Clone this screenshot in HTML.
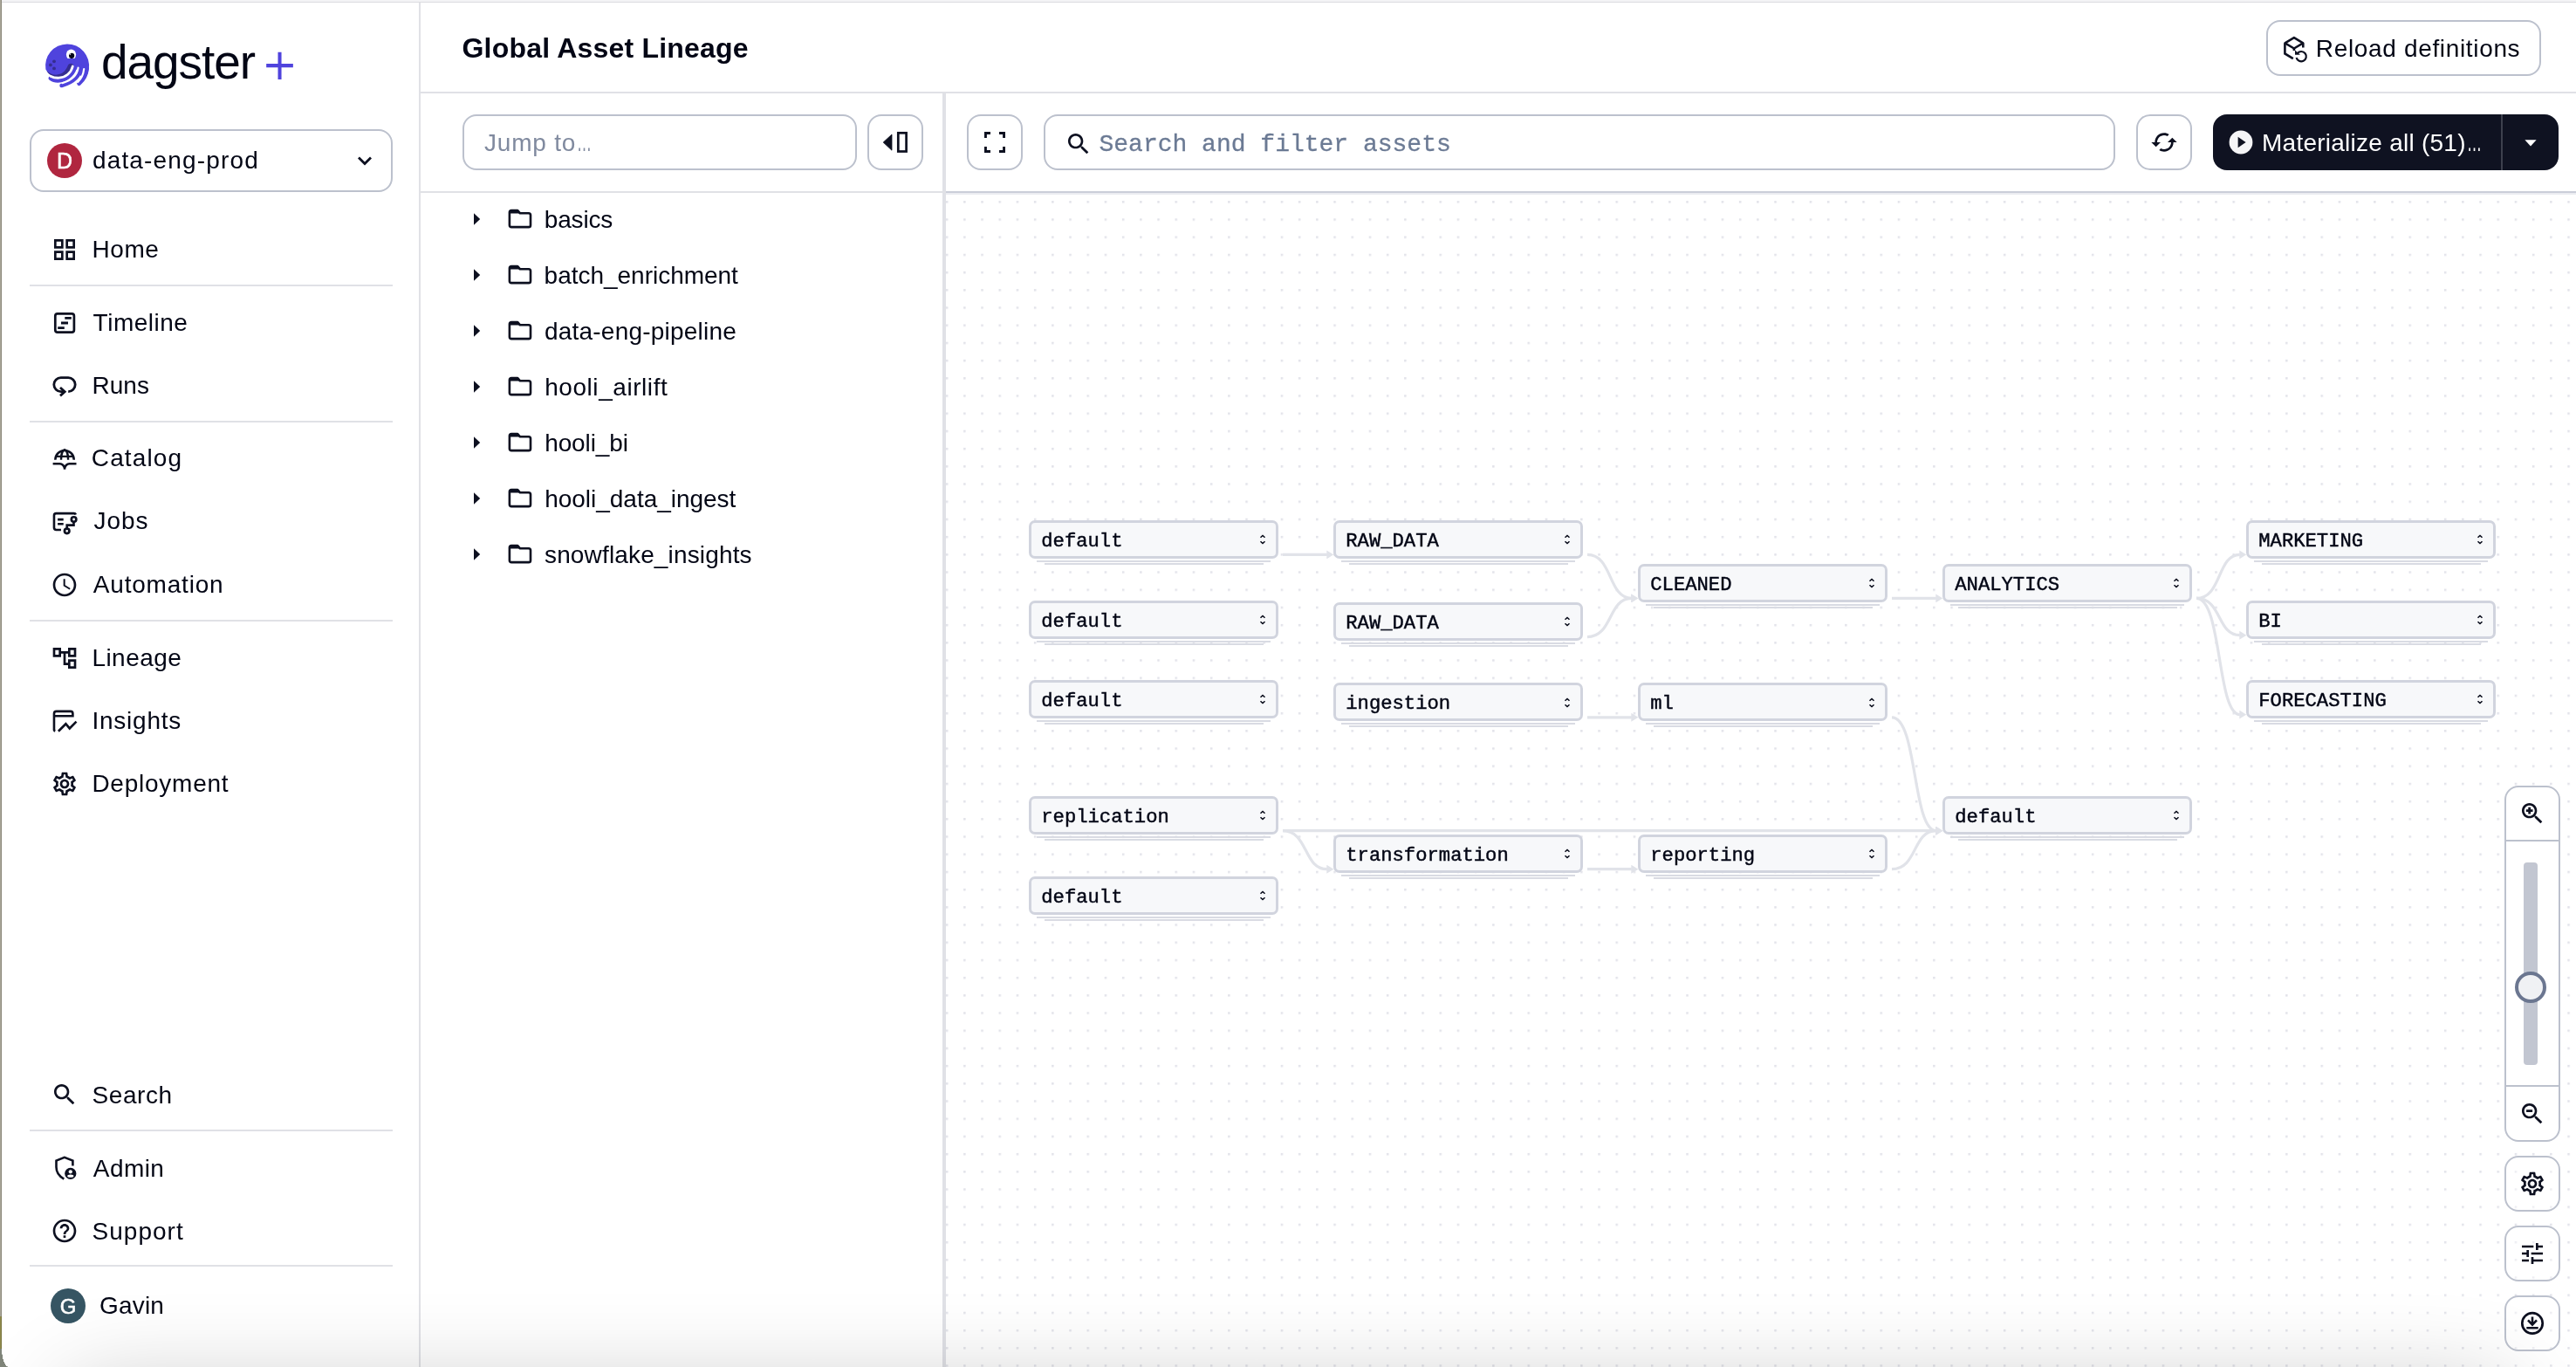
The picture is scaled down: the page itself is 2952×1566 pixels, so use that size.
<!DOCTYPE html>
<html lang="en">
<head>
<meta charset="utf-8">
<title>Global Asset Lineage</title>
<style>
*{box-sizing:border-box;margin:0;padding:0}
html,body{width:2952px;height:1566px;overflow:hidden;background:#fff}
body{position:relative;font-family:"Liberation Sans",sans-serif;color:#030615;-webkit-font-smoothing:antialiased}
.abs{position:absolute}
.t{position:absolute;white-space:nowrap;line-height:1}
.nav{font-size:28px;left:107px;letter-spacing:.2px}
.ico{position:absolute;overflow:visible}
.hr{position:absolute;left:34px;width:416px;height:2px;background:#e0e1e6}
.btn{position:absolute;border:2px solid #bcc1cd;border-radius:16px;background:#fff}
.tree{font-size:28px;left:624px;letter-spacing:0}
.node{position:absolute;width:286px;height:44px;border:3.4px solid #d1d4de;border-radius:7px;background:#f7f8fa}
.node span{position:absolute;left:11.3px;top:10.6px;font-family:"Liberation Mono",monospace;font-size:22.2px;line-height:1;white-space:nowrap;color:#030615;-webkit-text-stroke:.45px #030615}
.node svg{position:absolute;left:259.6px;top:11.2px}
.node i{position:absolute;height:2px;background:#d9dbe3;display:block}
.node i.a{left:6px;right:6px;top:43px}
.node i.b{left:15px;right:14px;top:46px}
.el{display:inline-block;width:16px;font-size:34px;line-height:0;transform:scaleX(.5);transform-origin:0 50%;letter-spacing:0;margin-left:1px}
</style>
</head>
<body>
<div id="root" style="position:absolute;left:0;top:0;width:2952px;height:1566px;will-change:transform">
<!-- window chrome edges -->
<div class="abs" style="left:0;top:0;width:2952px;height:2px;background:#f3f3f5"></div>
<div class="abs" style="left:0;top:2px;width:2952px;height:1px;background:#dcdce0"></div>
<div class="abs" style="left:0;top:0;width:1px;height:1566px;background:#aaa79a"></div>
<div class="abs" style="left:1px;top:0;width:1px;height:1566px;background:#8c897b"></div>
<div class="abs" style="left:0;top:1508px;width:1px;height:58px;background:#8f8a4c"></div>
<div class="abs" style="left:1px;top:1508px;width:1px;height:58px;background:#7b7740"></div>
<div class="abs" style="left:0;top:1545px;width:10px;height:21px;background:radial-gradient(ellipse 8px 21px at 100% 0,rgba(255,255,255,0) 0,rgba(255,255,255,0) 98%,#80857a 100%)"></div>
<div class="abs" style="left:0;top:1545px;width:2px;height:21px;background:#80857a"></div>

<!-- SIDEBAR -->
<div class="abs" style="left:480px;top:3px;width:2px;height:1563px;background:#e0e1e6"></div>
<div id="sidebar">
<svg class="ico" id="logo" style="left:40px;top:40px" width="80" height="70" viewBox="40 40 80 70"><path d="M52.4 79.5 A25 25 0 1 1 101.8 79 C101 84 99 89 96 92 L88 80 L83 75 C81 80 78 85 73 87.6 C67 90.2 58 88.4 52.4 79.5 Z" fill="#4f43dd"/>
<path d="M86.4 75 C84.8 83.6 78.6 90 70 92 C65.4 93 61 92 57.8 89.6" fill="none" stroke="#4f43dd" stroke-width="4.6" stroke-linecap="round"/>
<path d="M93 76 C92 85 86.5 93.5 70.6 98" fill="none" stroke="#4f43dd" stroke-width="4.6" stroke-linecap="round"/>
<path d="M99.6 78 C99 85 96 91 90.6 95.6" fill="none" stroke="#4f43dd" stroke-width="4.8" stroke-linecap="round"/>
<path d="M53.4 81 C58 85.5 64 87 69.5 84.6 C74.5 82.4 76.5 78 77.8 75 C78.8 72.6 81.6 72 83.4 73.4 C84.6 74.4 84.4 76 83.8 77.4 C81.6 83.4 77 87.6 71 88.8 C63 90.2 56.4 86.4 53.4 81 Z" fill="#352d8f"/>
<path d="M83.3 76 C81.4 83.6 75.4 88.8 67.6 89.2 C63.6 89.4 60.6 88.6 57.8 87.2" fill="none" stroke="#fff" stroke-width="2.8" stroke-linecap="round"/>
<path d="M89.6 77.6 C88.6 85 83 91.8 71.4 95.2" fill="none" stroke="#fff" stroke-width="2.2" stroke-linecap="round"/>
<path d="M96.2 79 C95.6 85 93 90.4 89.2 94" fill="none" stroke="#fff" stroke-width="2.2" stroke-linecap="round"/>
<circle cx="62" cy="70.3" r="1.9" fill="#352d8f"/><circle cx="57.9" cy="74.4" r="1.9" fill="#352d8f"/><circle cx="62" cy="78.4" r="1.9" fill="#352d8f"/>
<clipPath id="eyeclip"><rect x="70" y="50" width="25" height="16.9"/></clipPath>
<g clip-path="url(#eyeclip)"><ellipse cx="81.5" cy="62.6" rx="5.6" ry="6.1" fill="#fff"/><circle cx="82.1" cy="63.9" r="3.15" fill="#05061a"/><circle cx="80.3" cy="62.1" r=".8" fill="#fff"/></g></svg>
<div class="t" style="left:116px;top:43.5px;font-size:55px;letter-spacing:-1.05px;color:#030615">dagster</div>
<div class="t" id="plus" style="left:300px;top:49.5px;font-family:'DejaVu Sans',sans-serif;font-size:49px;color:#4f43dd">+</div>
<div class="abs" style="left:34px;top:148px;width:416px;height:72px;border:2px solid #bcc1cd;border-radius:16px;background:#fff"></div>
<div class="abs" style="left:54px;top:164px;width:40px;height:40px;border-radius:50%;background:#b0263f"></div>
<div class="t" style="left:54px;top:172px;width:40px;text-align:center;font-size:25px;color:#fff;-webkit-text-stroke:.55px #fff">D</div>
<div class="t" style="left:106px;top:170px;font-size:28px;letter-spacing:1.15px">data-eng-prod</div>
<svg class="ico" style="left:406px;top:172px" width="24" height="24" viewBox="0 0 24 24"><path d="M5 8.5 L12 15.5 L19 8.5" fill="none" stroke="#0d1020" stroke-width="2.8"/></svg>
<svg class="ico" id="ic-Home" style="left:58px;top:270.0px" width="32" height="32" viewBox="0 0 32 32"><g transform="scale(1.3333)"><path d="M3 3v8h8V3H3zm6 6H5V5h4v4zm-6 4v8h8v-8H3zm6 6H5v-4h4v4zm4-16v8h8V3h-8zm6 6h-4V5h4v4zm-6 4v8h8v-8h-8zm6 6h-4v-4h4v4z" fill="#0d1020"/></g></svg>
<div class="t nav" style="top:272.2px;left:105.4px;letter-spacing:0.60px">Home</div>
<svg class="ico" id="ic-Timeline" style="left:58px;top:353.6px" width="32" height="32" viewBox="0 0 32 32"><rect x="5.3" y="5.4" width="21.6" height="21.2" rx="2.6" fill="none" stroke="#0d1020" stroke-width="2.7"/><path d="M16.3 10.3H23.8M12 16H20M8.2 21.7H15.8" stroke="#0d1020" stroke-width="2.8" fill="none"/></svg>
<div class="t nav" style="top:355.8px;left:106.6px;letter-spacing:0.51px">Timeline</div>
<svg class="ico" id="ic-Runs" style="left:58px;top:426.0px" width="32" height="32" viewBox="0 0 32 32"><path d="M20.2 22.6 A8 8 0 0 0 20.2 6.6 H11.8 A8 8 0 0 0 11.8 22.6 H15" fill="none" stroke="#0d1020" stroke-width="2.8"/><path d="M11 18 L16.2 22.7 L11 27.4" fill="none" stroke="#0d1020" stroke-width="2.8"/></svg>
<div class="t nav" style="top:428.2px;left:105.4px;letter-spacing:0.06px">Runs</div>
<svg class="ico" id="ic-Catalog" style="left:58px;top:509.0px" width="32" height="32" viewBox="0 0 32 32"><path d="M5.35 17.7 A10.7 10.7 0 0 1 26.75 17.7" fill="none" stroke="#0d1020" stroke-width="2.6"/><path d="M12 17.7 C12 10.5 14.2 6.6 16.05 6.2 C17.9 6.6 20.1 10.5 20.1 17.7 M6 13.85 H26.1" fill="none" stroke="#0d1020" stroke-width="2.4"/><path d="M2.6 22.3 H10.4 Q14.9 22.6 16.05 27.4 Q17.2 22.6 21.7 22.3 H29.5 M16.05 25.5 V28.8" fill="none" stroke="#0d1020" stroke-width="2.6"/></svg>
<div class="t nav" style="top:511.2px;left:104.8px;letter-spacing:1.13px">Catalog</div>
<svg class="ico" id="ic-Jobs" style="left:58px;top:581.2px" width="32" height="32" viewBox="0 0 32 32"><path d="M11.95 26 H6.4 Q3.97 26 3.97 23.6 V9.5 Q3.97 7.1 6.4 7.1 H26.6 Q28.4 7.1 28.9 8.5" fill="none" stroke="#0d1020" stroke-width="2.6"/><path d="M8.1 14.15 H14.7 M8.1 19.3 H14.7" stroke="#0d1020" stroke-width="2.6" fill="none"/><circle cx="26.6" cy="14" r="2.75" fill="none" stroke="#0d1020" stroke-width="2.7"/><circle cx="18.7" cy="27.3" r="2.75" fill="none" stroke="#0d1020" stroke-width="2.7"/><path d="M26.5 16.8 V20.6 H18.7 V24.5" fill="none" stroke="#0d1020" stroke-width="2.6"/></svg>
<div class="t nav" style="top:583.4px;left:107.4px;letter-spacing:1.00px">Jobs</div>
<svg class="ico" id="ic-Automation" style="left:58px;top:653.5px" width="32" height="32" viewBox="0 0 32 32"><g transform="scale(1.3333)"><path d="M11.99 2C6.47 2 2 6.48 2 12s4.47 10 9.99 10C17.52 22 22 17.52 22 12S17.52 2 11.99 2zM12 20c-4.42 0-8-3.58-8-8s3.58-8 8-8 8 3.58 8 8-3.58 8-8 8zm.5-13H11v6l5.25 3.15.75-1.23-4.5-2.67z" fill="#0d1020"/></g></svg>
<div class="t nav" style="top:655.7px;left:106.8px;letter-spacing:0.80px">Automation</div>
<svg class="ico" id="ic-Lineage" style="left:58px;top:737.5px" width="32" height="32" viewBox="0 0 32 32"><g transform="scale(1.3333)"><path d="M22 11V3h-7v3H9V3H2v8h7V8h2v10h4v3h7v-8h-7v3h-2V8h2v3h7zM7 9H4V5h3v4zm10 6h3v4h-3v-4zm0-10h3v4h-3V5z" fill="#0d1020"/></g></svg>
<div class="t nav" style="top:739.7px;left:105.4px;letter-spacing:0.47px">Lineage</div>
<svg class="ico" id="ic-Insights" style="left:58px;top:809.4px" width="32" height="32" viewBox="0 0 32 32"><path d="M3.97 27.4 V8.6 Q3.97 5.9 6.7 5.9 H22.9 Q25.4 5.9 25.4 8.4 V11.25 H3.97" fill="none" stroke="#0d1020" stroke-width="2.6"/><path d="M3.97 27 Q4.1 28.3 5.3 28.6" fill="none" stroke="#0d1020" stroke-width="2.6"/><path d="M8.9 28.7 L17.4 20.2 L21.75 25.4 L29.5 17.6" fill="none" stroke="#0d1020" stroke-width="2.7"/></svg>
<div class="t nav" style="top:811.6px;left:105.4px;letter-spacing:0.77px">Insights</div>
<svg class="ico" id="ic-Deployment" style="left:58px;top:881.7px" width="32" height="32" viewBox="0 0 32 32"><g transform="scale(1.3333)"><path d="M19.43 12.98c.04-.32.07-.64.07-.98 0-.34-.03-.66-.07-.98l2.11-1.65c.19-.15.24-.42.12-.64l-2-3.46c-.09-.16-.26-.25-.44-.25-.06 0-.12.01-.17.03l-2.49 1c-.52-.4-1.08-.73-1.69-.98l-.38-2.65C14.46 2.18 14.25 2 14 2h-4c-.25 0-.46.18-.49.42l-.38 2.65c-.61.25-1.17.59-1.69.98l-2.49-1c-.06-.02-.12-.03-.18-.03-.17 0-.34.09-.43.25l-2 3.46c-.13.22-.07.49.12.64l2.11 1.65c-.04.32-.07.65-.07.98 0 .33.03.66.07.98l-2.11 1.65c-.19.15-.24.42-.12.64l2 3.46c.09.16.26.25.44.25.06 0 .12-.01.17-.03l2.49-1c.52.4 1.08.73 1.69.98l.38 2.65c.03.24.24.42.49.42h4c.25 0 .46-.18.49-.42l.38-2.65c.61-.25 1.17-.59 1.69-.98l2.49 1c.06.02.12.03.18.03.17 0 .34-.09.43-.25l2-3.46c.12-.22.07-.49-.12-.64l-2.11-1.65zm-1.98-1.71c.04.31.05.52.05.73 0 .21-.02.43-.05.73l-.14 1.13.89.7 1.08.84-.7 1.21-1.27-.51-1.04-.42-.9.68c-.43.32-.84.56-1.25.73l-1.06.43-.16 1.13-.2 1.35h-1.4l-.19-1.35-.16-1.13-1.06-.43c-.43-.18-.83-.41-1.23-.71l-.91-.7-1.06.43-1.27.51-.7-1.21 1.08-.84.89-.7-.14-1.13c-.03-.31-.05-.54-.05-.74s.02-.43.05-.73l.14-1.13-.89-.7-1.08-.84.7-1.21 1.27.51 1.04.42.9-.68c.43-.32.84-.56 1.25-.73l1.06-.43.16-1.13.2-1.35h1.39l.19 1.35.16 1.13 1.06.43c.43.18.83.41 1.23.71l.91.7 1.06-.43 1.27-.51.7 1.21-1.07.85-.89.7.14 1.13zM12 8c-2.21 0-4 1.79-4 4s1.79 4 4 4 4-1.79 4-4-1.79-4-4-4zm0 6c-1.1 0-2-.9-2-2s.9-2 2-2 2 .9 2 2-.9 2-2 2z" fill="#0d1020"/></g></svg>
<div class="t nav" style="top:883.9px;left:105.4px;letter-spacing:0.76px">Deployment</div>
<svg class="ico" id="ic-Search" style="left:58px;top:1237.7px" width="32" height="32" viewBox="0 0 32 32"><g transform="scale(1.3333)"><path d="M15.5 14h-.79l-.28-.27C15.41 12.59 16 11.11 16 9.5 16 5.91 13.09 3 9.5 3S3 5.91 3 9.5 5.91 16 9.5 16c1.61 0 3.09-.59 4.23-1.57l.27.28v.79l5 4.99L20.49 19l-4.99-5zm-6 0C7.01 14 5 11.99 5 9.5S7.01 5 9.5 5 14 7.01 14 9.5 11.99 14 9.5 14z" fill="#0d1020"/></g></svg>
<div class="t nav" style="top:1241.2px;left:105.6px;letter-spacing:0.56px">Search</div>
<svg class="ico" id="ic-Admin" style="left:58px;top:1322.4px" width="32" height="32" viewBox="0 0 32 32"><path d="M25.4 13.45 V7.6 L15.9 3.9 L6.5 7.6 V15 C6.5 21 10 25.6 15.3 28.6" fill="none" stroke="#0d1020" stroke-width="2.6" stroke-linejoin="miter"/><circle cx="22.8" cy="22.4" r="6.6" fill="#0d1020"/><circle cx="22.8" cy="20.3" r="2.1" fill="#fff"/><ellipse cx="22.8" cy="25.15" rx="3.6" ry="1.6" fill="#fff"/></svg>
<div class="t nav" style="top:1324.6px;left:106.8px;letter-spacing:0.44px">Admin</div>
<svg class="ico" id="ic-Support" style="left:58px;top:1394.0px" width="32" height="32" viewBox="0 0 32 32"><g transform="scale(1.3333)"><path d="M11 18h2v-2h-2v2zm1-16C6.48 2 2 6.48 2 12s4.48 10 10 10 10-4.48 10-10S17.52 2 12 2zm0 18c-4.41 0-8-3.59-8-8s3.59-8 8-8 8 3.59 8 8-3.59 8-8 8zm0-14c-2.21 0-4 1.79-4 4h2c0-1.1.9-2 2-2s2 .9 2 2c0 2-3 1.75-3 5h2c0-2.25 3-2.5 3-5 0-2.21-1.79-4-4-4z" fill="#0d1020"/></g></svg>
<div class="t nav" style="top:1397.0px;left:105.6px;letter-spacing:1.00px">Support</div>
<div class="hr" style="top:325.5px"></div>
<div class="hr" style="top:481.5px"></div>
<div class="hr" style="top:709.7px"></div>
<div class="hr" style="top:1293.7px"></div>
<div class="hr" style="top:1449.4px"></div>
<div class="abs" style="left:58px;top:1476px;width:40px;height:40px;border-radius:50%;background:#365563"></div>
<div class="t" style="left:58px;top:1484.5px;width:40px;text-align:center;font-size:24px;color:#fff;-webkit-text-stroke:.55px #fff">G</div>
<div class="t" style="left:114px;top:1481.9px;font-size:28px;letter-spacing:.2px">Gavin</div>
</div>

<!-- HEADER -->
<div id="header">
<div class="t" style="left:529.5px;top:38.7px;font-size:32px;font-weight:700;letter-spacing:.2px">Global Asset Lineage</div>
<div class="abs" style="left:482px;top:105px;width:2470px;height:2px;background:#e0e1e6"></div>
<div class="btn" style="left:2597px;top:23px;width:315px;height:64px"></div>
<svg class="ico" id="ic-reload" style="left:2614px;top:40px" width="32" height="32" viewBox="0 0 32 32"><path d="M14.9 3.1 L25.2 9.4 L14.9 15.5 L4.5 9.4 Z" fill="none" stroke="#0d1020" stroke-width="2.5" stroke-linejoin="round"/><path d="M4.4 9.4 V21.4 L13.8 27.2 M25.3 9.4 V14.6 M14.9 15.6 V18" fill="none" stroke="#0d1020" stroke-width="2.6"/><path d="M18.8 21 A5.7 5.7 0 1 1 17.6 26" fill="none" stroke="#0d1020" stroke-width="2.2"/><path d="M16 17.6 V22.8 H22 Z" fill="#0d1020"/></svg>
<div class="t" style="left:2653.8px;top:42px;font-size:28px;letter-spacing:.66px">Reload definitions</div>
</div>

<!-- LEFT PANEL -->
<div id="leftpanel">
<div class="btn" style="left:530px;top:131px;width:452px;height:64px"></div>
<div class="t" style="left:555px;top:149.5px;font-size:28px;letter-spacing:.8px;color:#808a9f">Jump to<span class="el">…</span></div>
<div class="btn" style="left:994px;top:131px;width:64px;height:64px"></div>
<svg class="ico" id="ic-panel" style="left:1010px;top:147px" width="32" height="32" viewBox="0 0 32 32"><path d="M2.2 16.1 L12 7 V25.2 Z" fill="#0d1020" stroke="#0d1020" stroke-width=".8" stroke-linejoin="round"/><rect x="19.3" y="5.3" width="9.3" height="21.2" fill="none" stroke="#0d1020" stroke-width="2.7"/></svg>
<div class="abs" style="left:482px;top:219px;width:598px;height:2px;background:#e0e1e6"></div>
<div class="abs" style="left:1080px;top:107px;width:4px;height:1459px;background:#e0e1e6"></div>
<svg class="ico" style="left:541px;top:243.3px" width="12" height="16" viewBox="0 0 12 16"><path d="M2 1.3 L9.2 8 L2 14.7 Z" fill="#0d1020"/></svg>
<svg class="ico" style="left:580px;top:237.3px" width="32" height="28" viewBox="0 0 32 28"><path d="M3.9 6.2 Q3.9 4 6.1 4 H13.2 L16 7.3 H25.8 Q28 7.3 28 9.5 V20.9 Q28 23.1 25.8 23.1 H6.1 Q3.9 23.1 3.9 20.9 Z" fill="none" stroke="#0d1020" stroke-width="2.6" stroke-linejoin="round"/><path d="M3.9 4.4 H13.4 L16 7.6 H3.9 Z" fill="#0d1020"/></svg>
<div class="t tree" style="top:237.9px;left:623.8px;letter-spacing:-0.16px">basics</div>
<svg class="ico" style="left:541px;top:307.3px" width="12" height="16" viewBox="0 0 12 16"><path d="M2 1.3 L9.2 8 L2 14.7 Z" fill="#0d1020"/></svg>
<svg class="ico" style="left:580px;top:301.3px" width="32" height="28" viewBox="0 0 32 28"><path d="M3.9 6.2 Q3.9 4 6.1 4 H13.2 L16 7.3 H25.8 Q28 7.3 28 9.5 V20.9 Q28 23.1 25.8 23.1 H6.1 Q3.9 23.1 3.9 20.9 Z" fill="none" stroke="#0d1020" stroke-width="2.6" stroke-linejoin="round"/><path d="M3.9 4.4 H13.4 L16 7.6 H3.9 Z" fill="#0d1020"/></svg>
<div class="t tree" style="top:301.9px;left:623.6px;letter-spacing:-0.02px">batch_enrichment</div>
<svg class="ico" style="left:541px;top:371.3px" width="12" height="16" viewBox="0 0 12 16"><path d="M2 1.3 L9.2 8 L2 14.7 Z" fill="#0d1020"/></svg>
<svg class="ico" style="left:580px;top:365.3px" width="32" height="28" viewBox="0 0 32 28"><path d="M3.9 6.2 Q3.9 4 6.1 4 H13.2 L16 7.3 H25.8 Q28 7.3 28 9.5 V20.9 Q28 23.1 25.8 23.1 H6.1 Q3.9 23.1 3.9 20.9 Z" fill="none" stroke="#0d1020" stroke-width="2.6" stroke-linejoin="round"/><path d="M3.9 4.4 H13.4 L16 7.6 H3.9 Z" fill="#0d1020"/></svg>
<div class="t tree" style="top:365.9px;left:624.0px;letter-spacing:0.21px">data-eng-pipeline</div>
<svg class="ico" style="left:541px;top:435.3px" width="12" height="16" viewBox="0 0 12 16"><path d="M2 1.3 L9.2 8 L2 14.7 Z" fill="#0d1020"/></svg>
<svg class="ico" style="left:580px;top:429.3px" width="32" height="28" viewBox="0 0 32 28"><path d="M3.9 6.2 Q3.9 4 6.1 4 H13.2 L16 7.3 H25.8 Q28 7.3 28 9.5 V20.9 Q28 23.1 25.8 23.1 H6.1 Q3.9 23.1 3.9 20.9 Z" fill="none" stroke="#0d1020" stroke-width="2.6" stroke-linejoin="round"/><path d="M3.9 4.4 H13.4 L16 7.6 H3.9 Z" fill="#0d1020"/></svg>
<div class="t tree" style="top:429.9px;left:624.2px;letter-spacing:0.56px">hooli_airlift</div>
<svg class="ico" style="left:541px;top:499.3px" width="12" height="16" viewBox="0 0 12 16"><path d="M2 1.3 L9.2 8 L2 14.7 Z" fill="#0d1020"/></svg>
<svg class="ico" style="left:580px;top:493.3px" width="32" height="28" viewBox="0 0 32 28"><path d="M3.9 6.2 Q3.9 4 6.1 4 H13.2 L16 7.3 H25.8 Q28 7.3 28 9.5 V20.9 Q28 23.1 25.8 23.1 H6.1 Q3.9 23.1 3.9 20.9 Z" fill="none" stroke="#0d1020" stroke-width="2.6" stroke-linejoin="round"/><path d="M3.9 4.4 H13.4 L16 7.6 H3.9 Z" fill="#0d1020"/></svg>
<div class="t tree" style="top:493.9px;left:624.2px;letter-spacing:-0.12px">hooli_bi</div>
<svg class="ico" style="left:541px;top:563.3px" width="12" height="16" viewBox="0 0 12 16"><path d="M2 1.3 L9.2 8 L2 14.7 Z" fill="#0d1020"/></svg>
<svg class="ico" style="left:580px;top:557.3px" width="32" height="28" viewBox="0 0 32 28"><path d="M3.9 6.2 Q3.9 4 6.1 4 H13.2 L16 7.3 H25.8 Q28 7.3 28 9.5 V20.9 Q28 23.1 25.8 23.1 H6.1 Q3.9 23.1 3.9 20.9 Z" fill="none" stroke="#0d1020" stroke-width="2.6" stroke-linejoin="round"/><path d="M3.9 4.4 H13.4 L16 7.6 H3.9 Z" fill="#0d1020"/></svg>
<div class="t tree" style="top:557.9px;left:624.2px;letter-spacing:-0.02px">hooli_data_ingest</div>
<svg class="ico" style="left:541px;top:627.3px" width="12" height="16" viewBox="0 0 12 16"><path d="M2 1.3 L9.2 8 L2 14.7 Z" fill="#0d1020"/></svg>
<svg class="ico" style="left:580px;top:621.3px" width="32" height="28" viewBox="0 0 32 28"><path d="M3.9 6.2 Q3.9 4 6.1 4 H13.2 L16 7.3 H25.8 Q28 7.3 28 9.5 V20.9 Q28 23.1 25.8 23.1 H6.1 Q3.9 23.1 3.9 20.9 Z" fill="none" stroke="#0d1020" stroke-width="2.6" stroke-linejoin="round"/><path d="M3.9 4.4 H13.4 L16 7.6 H3.9 Z" fill="#0d1020"/></svg>
<div class="t tree" style="top:621.9px;left:624.0px;letter-spacing:0.15px">snowflake_insights</div>
</div>

<!-- GRAPH -->
<div id="graph">
<div class="btn" style="left:1108px;top:131px;width:64px;height:64px"></div>
<svg class="ico" id="ic-full" style="left:1124px;top:147px" width="32" height="32" viewBox="0 0 32 32"><path d="M5.45 11 V5.45 H11 M21 5.45 H26.55 V11 M26.55 21 V26.55 H21 M11 26.55 H5.45 V21" fill="none" stroke="#0d1020" stroke-width="2.9"/></svg>
<div class="btn" style="left:1196px;top:131px;width:1228px;height:64px"></div>
<svg class="ico" id="ic-search2" style="left:1220px;top:149px" width="32" height="32" viewBox="0 0 32 32"><g transform="scale(1.3333)"><path d="M15.5 14h-.79l-.28-.27C15.41 12.59 16 11.11 16 9.5 16 5.91 13.09 3 9.5 3S3 5.91 3 9.5 5.91 16 9.5 16c1.61 0 3.09-.59 4.23-1.57l.27.28v.79l5 4.99L20.49 19l-4.99-5zm-6 0C7.01 14 5 11.99 5 9.5S7.01 5 9.5 5 14 7.01 14 9.5 11.99 14 9.5 14z" fill="#0d1020"/></g></svg>
<div class="t" style="left:1259.5px;top:152px;font-family:'Liberation Mono',monospace;font-size:28px;color:#6b7a94;-webkit-text-stroke:.3px #6b7a94">Search and filter assets</div>
<div class="btn" style="left:2448px;top:131px;width:64px;height:64px"></div>
<svg class="ico" id="ic-sync" style="left:2464px;top:147px" width="32" height="32" viewBox="0 0 32 32"><g transform="scale(1.3333)"><path d="M19 8l-4 4h3c0 3.31-2.69 6-6 6-1.01 0-1.97-.25-2.8-.7l-1.46 1.46C8.97 19.54 10.43 20 12 20c4.42 0 8-3.58 8-8h3l-4-4zM6 12c0-3.31 2.69-6 6-6 1.01 0 1.97.25 2.8.7l1.46-1.46C15.03 4.46 13.57 4 12 4c-4.42 0-8 3.58-8 8H1l4 4 4-4H6z" fill="#0d1020"/></g></svg>
<div class="abs" style="left:2536px;top:131px;width:396px;height:64px;border-radius:16px;background:#0f1221"></div>
<div class="abs" style="left:2866px;top:131px;width:2px;height:64px;background:#3d404d"></div>
<svg class="ico" id="ic-play" style="left:2552px;top:147px" width="32" height="32" viewBox="0 0 32 32"><circle cx="16" cy="16" r="13.4" fill="#f5f5f7"/><path d="M12.6 9.8 L21.6 16 L12.6 22.2 Z" fill="#0f1221"/></svg>
<div class="t" style="left:2592px;top:149.7px;font-size:28px;letter-spacing:.25px;color:#fff">Materialize all (51)<span class="el">…</span></div>
<svg class="ico" style="left:2892px;top:159px" width="16" height="10" viewBox="0 0 16 10"><path d="M1.4 1.2 H14.6 L8 8.4 Z" fill="#fff"/></svg>
<div class="abs" style="left:1084px;top:219px;width:1868px;height:2px;background:#cbced9"></div>
<div class="abs" style="left:1084px;top:221px;width:1868px;height:2px;background:#ebecf1"></div>
<svg class="abs" style="left:1084px;top:223px" width="1868" height="1343" viewBox="1084 223 1868 1343">
<defs><pattern id="dots" x="1083.9" y="230.1" width="20.2" height="20.2" patternUnits="userSpaceOnUse"><rect x="0" y="0" width="2.5" height="2.5" fill="#e2e3ea"/></pattern>
<marker id="ah" viewBox="0 0 8 10" refX="0.5" refY="5" markerWidth="8" markerHeight="10" markerUnits="userSpaceOnUse" orient="auto"><path d="M0 0 L8 5 L0 10 Z" fill="#e1e3e9"/></marker></defs>
<rect x="1084" y="223" width="1868" height="1343" fill="url(#dots)"/>
<g id="edges" fill="none" stroke="#e1e3e9" stroke-width="3.2">
<path d="M1470.0 635.4 L1520.8 635.4" marker-end="url(#ah)"/>
<path d="M1819.0 635.4 C1848.4 635.4 1842.4 685.4 1869.8 685.4" marker-end="url(#ah)"/>
<path d="M1819.0 729.6 C1848.4 729.6 1842.4 685.4 1869.8 685.4" marker-end="url(#ah)"/>
<path d="M2168.0 685.4 L2218.8 685.4" marker-end="url(#ah)"/>
<path d="M2517.0 685.4 C2546.4 685.4 2540.4 635.4 2566.8 635.4" marker-end="url(#ah)"/>
<path d="M2517.0 685.4 C2546.4 685.4 2540.4 727.7 2566.8 727.7" marker-end="url(#ah)"/>
<path d="M2517.0 685.4 C2546.4 685.4 2540.4 818.6 2566.8 818.6" marker-end="url(#ah)"/>
<path d="M1819.0 821.8 L1869.8 821.8" marker-end="url(#ah)"/>
<path d="M2168.0 821.8 C2197.4 821.8 2191.4 951.7 2218.8 951.7" marker-end="url(#ah)"/>
<path d="M1470.0 951.7 L2218.8 951.7" marker-end="url(#ah)"/>
<path d="M1470.0 951.7 C1499.4 951.7 1493.4 995.7 1520.8 995.7" marker-end="url(#ah)"/>
<path d="M1819.0 995.7 L1869.8 995.7" marker-end="url(#ah)"/>
<path d="M2168.0 995.7 C2197.4 995.7 2191.4 951.7 2218.8 951.7" marker-end="url(#ah)"/>
</g>
</svg>
<div class="node" style="left:1179px;top:596px"><span>default</span><svg width="10" height="16" viewBox="0 0 10 16"><path d="M2.5 5.7 L5 3.4 L7.5 5.7 M2.5 10.3 L5 12.6 L7.5 10.3" fill="none" stroke="#030615" stroke-width="1.5"/></svg><i class="a"></i><i class="b"></i></div>
<div class="node" style="left:1179px;top:688.3px"><span>default</span><svg width="10" height="16" viewBox="0 0 10 16"><path d="M2.5 5.7 L5 3.4 L7.5 5.7 M2.5 10.3 L5 12.6 L7.5 10.3" fill="none" stroke="#030615" stroke-width="1.5"/></svg><i class="a"></i><i class="b"></i></div>
<div class="node" style="left:1179px;top:779.2px"><span>default</span><svg width="10" height="16" viewBox="0 0 10 16"><path d="M2.5 5.7 L5 3.4 L7.5 5.7 M2.5 10.3 L5 12.6 L7.5 10.3" fill="none" stroke="#030615" stroke-width="1.5"/></svg><i class="a"></i><i class="b"></i></div>
<div class="node" style="left:1179px;top:912.3px"><span>replication</span><svg width="10" height="16" viewBox="0 0 10 16"><path d="M2.5 5.7 L5 3.4 L7.5 5.7 M2.5 10.3 L5 12.6 L7.5 10.3" fill="none" stroke="#030615" stroke-width="1.5"/></svg><i class="a"></i><i class="b"></i></div>
<div class="node" style="left:1179px;top:1004.3px"><span>default</span><svg width="10" height="16" viewBox="0 0 10 16"><path d="M2.5 5.7 L5 3.4 L7.5 5.7 M2.5 10.3 L5 12.6 L7.5 10.3" fill="none" stroke="#030615" stroke-width="1.5"/></svg><i class="a"></i><i class="b"></i></div>
<div class="node" style="left:1528px;top:596px"><span>RAW_DATA</span><svg width="10" height="16" viewBox="0 0 10 16"><path d="M2.5 5.7 L5 3.4 L7.5 5.7 M2.5 10.3 L5 12.6 L7.5 10.3" fill="none" stroke="#030615" stroke-width="1.5"/></svg><i class="a"></i><i class="b"></i></div>
<div class="node" style="left:1528px;top:690.2px"><span>RAW_DATA</span><svg width="10" height="16" viewBox="0 0 10 16"><path d="M2.5 5.7 L5 3.4 L7.5 5.7 M2.5 10.3 L5 12.6 L7.5 10.3" fill="none" stroke="#030615" stroke-width="1.5"/></svg><i class="a"></i><i class="b"></i></div>
<div class="node" style="left:1528px;top:782.4px"><span>ingestion</span><svg width="10" height="16" viewBox="0 0 10 16"><path d="M2.5 5.7 L5 3.4 L7.5 5.7 M2.5 10.3 L5 12.6 L7.5 10.3" fill="none" stroke="#030615" stroke-width="1.5"/></svg><i class="a"></i><i class="b"></i></div>
<div class="node" style="left:1528px;top:956.3px"><span>transformation</span><svg width="10" height="16" viewBox="0 0 10 16"><path d="M2.5 5.7 L5 3.4 L7.5 5.7 M2.5 10.3 L5 12.6 L7.5 10.3" fill="none" stroke="#030615" stroke-width="1.5"/></svg><i class="a"></i><i class="b"></i></div>
<div class="node" style="left:1877px;top:646px"><span>CLEANED</span><svg width="10" height="16" viewBox="0 0 10 16"><path d="M2.5 5.7 L5 3.4 L7.5 5.7 M2.5 10.3 L5 12.6 L7.5 10.3" fill="none" stroke="#030615" stroke-width="1.5"/></svg><i class="a"></i><i class="b"></i></div>
<div class="node" style="left:1877px;top:782.4px"><span>ml</span><svg width="10" height="16" viewBox="0 0 10 16"><path d="M2.5 5.7 L5 3.4 L7.5 5.7 M2.5 10.3 L5 12.6 L7.5 10.3" fill="none" stroke="#030615" stroke-width="1.5"/></svg><i class="a"></i><i class="b"></i></div>
<div class="node" style="left:1877px;top:956.3px"><span>reporting</span><svg width="10" height="16" viewBox="0 0 10 16"><path d="M2.5 5.7 L5 3.4 L7.5 5.7 M2.5 10.3 L5 12.6 L7.5 10.3" fill="none" stroke="#030615" stroke-width="1.5"/></svg><i class="a"></i><i class="b"></i></div>
<div class="node" style="left:2226px;top:646px"><span>ANALYTICS</span><svg width="10" height="16" viewBox="0 0 10 16"><path d="M2.5 5.7 L5 3.4 L7.5 5.7 M2.5 10.3 L5 12.6 L7.5 10.3" fill="none" stroke="#030615" stroke-width="1.5"/></svg><i class="a"></i><i class="b"></i></div>
<div class="node" style="left:2226px;top:912.3px"><span>default</span><svg width="10" height="16" viewBox="0 0 10 16"><path d="M2.5 5.7 L5 3.4 L7.5 5.7 M2.5 10.3 L5 12.6 L7.5 10.3" fill="none" stroke="#030615" stroke-width="1.5"/></svg><i class="a"></i><i class="b"></i></div>
<div class="node" style="left:2574px;top:596px"><span>MARKETING</span><svg width="10" height="16" viewBox="0 0 10 16"><path d="M2.5 5.7 L5 3.4 L7.5 5.7 M2.5 10.3 L5 12.6 L7.5 10.3" fill="none" stroke="#030615" stroke-width="1.5"/></svg><i class="a"></i><i class="b"></i></div>
<div class="node" style="left:2574px;top:688.3px"><span>BI</span><svg width="10" height="16" viewBox="0 0 10 16"><path d="M2.5 5.7 L5 3.4 L7.5 5.7 M2.5 10.3 L5 12.6 L7.5 10.3" fill="none" stroke="#030615" stroke-width="1.5"/></svg><i class="a"></i><i class="b"></i></div>
<div class="node" style="left:2574px;top:779.2px"><span>FORECASTING</span><svg width="10" height="16" viewBox="0 0 10 16"><path d="M2.5 5.7 L5 3.4 L7.5 5.7 M2.5 10.3 L5 12.6 L7.5 10.3" fill="none" stroke="#030615" stroke-width="1.5"/></svg><i class="a"></i><i class="b"></i></div>
<div class="abs" style="left:2870px;top:900px;width:64px;height:408px;border:2px solid #bcc1cd;border-radius:16px;background:#fff"></div>
<div class="abs" style="left:2870px;top:962px;width:64px;height:2px;background:#bcc1cd"></div>
<div class="abs" style="left:2870px;top:1243px;width:64px;height:2px;background:#bcc1cd"></div>
<div class="abs" style="left:2892px;top:988px;width:16px;height:232px;border-radius:4px;background:#c2c6d1"></div>
<div class="abs" style="left:2882px;top:1113px;width:36px;height:36px;border-radius:50%;border:4px solid #6b7690;background:#f0f1f4"></div>
<svg class="ico" id="ic-zin" style="left:2886px;top:916px" width="32" height="32" viewBox="0 0 32 32"><g transform="scale(1.3333)"><path d="M15.5 14h-.79l-.28-.27C15.41 12.59 16 11.11 16 9.5 16 5.91 13.09 3 9.5 3S3 5.91 3 9.5 5.91 16 9.5 16c1.61 0 3.09-.59 4.23-1.57l.27.28v.79l5 4.99L20.49 19l-4.99-5zm-6 0C7.01 14 5 11.99 5 9.5S7.01 5 9.5 5 14 7.01 14 9.5 11.99 14 9.5 14zM6.6 8.45h1.85V6.6h2.1v1.85h1.85v2.1h-1.85v1.85h-2.1v-1.85H6.6z" fill="#0d1020"/></g></svg>
<svg class="ico" id="ic-zout" style="left:2886px;top:1260px" width="32" height="32" viewBox="0 0 32 32"><g transform="scale(1.3333)"><path d="M15.5 14h-.79l-.28-.27C15.41 12.59 16 11.11 16 9.5 16 5.91 13.09 3 9.5 3S3 5.91 3 9.5 5.91 16 9.5 16c1.61 0 3.09-.59 4.23-1.57l.27.28v.79l5 4.99L20.49 19l-4.99-5zm-6 0C7.01 14 5 11.99 5 9.5S7.01 5 9.5 5 14 7.01 14 9.5 11.99 14 9.5 14zM6.8 8.45h5.3v2.1H6.8z" fill="#0d1020"/></g></svg>
<div class="abs" style="left:2870px;top:1324px;width:64px;height:64px;border:2px solid #bcc1cd;border-radius:16px;background:rgba(255,255,255,.38)"></div>
<svg class="ico" id="ic-gear" style="left:2886px;top:1340px" width="32" height="32" viewBox="0 0 32 32"><g transform="scale(1.3333)"><path d="M19.43 12.98c.04-.32.07-.64.07-.98 0-.34-.03-.66-.07-.98l2.11-1.65c.19-.15.24-.42.12-.64l-2-3.46c-.09-.16-.26-.25-.44-.25-.06 0-.12.01-.17.03l-2.49 1c-.52-.4-1.08-.73-1.69-.98l-.38-2.65C14.46 2.18 14.25 2 14 2h-4c-.25 0-.46.18-.49.42l-.38 2.65c-.61.25-1.17.59-1.69.98l-2.49-1c-.06-.02-.12-.03-.18-.03-.17 0-.34.09-.43.25l-2 3.46c-.13.22-.07.49.12.64l2.11 1.65c-.04.32-.07.65-.07.98 0 .33.03.66.07.98l-2.11 1.65c-.19.15-.24.42-.12.64l2 3.46c.09.16.26.25.44.25.06 0 .12-.01.17-.03l2.49-1c.52.4 1.08.73 1.69.98l.38 2.65c.03.24.24.42.49.42h4c.25 0 .46-.18.49-.42l.38-2.65c.61-.25 1.17-.59 1.69-.98l2.49 1c.06.02.12.03.18.03.17 0 .34-.09.43-.25l2-3.46c.12-.22.07-.49-.12-.64l-2.11-1.65zm-1.98-1.71c.04.31.05.52.05.73 0 .21-.02.43-.05.73l-.14 1.13.89.7 1.08.84-.7 1.21-1.27-.51-1.04-.42-.9.68c-.43.32-.84.56-1.25.73l-1.06.43-.16 1.13-.2 1.35h-1.4l-.19-1.35-.16-1.13-1.06-.43c-.43-.18-.83-.41-1.23-.71l-.91-.7-1.06.43-1.27.51-.7-1.21 1.08-.84.89-.7-.14-1.13c-.03-.31-.05-.54-.05-.74s.02-.43.05-.73l.14-1.13-.89-.7-1.08-.84.7-1.21 1.27.51 1.04.42.9-.68c.43-.32.84-.56 1.25-.73l1.06-.43.16-1.13.2-1.35h1.39l.19 1.35.16 1.13 1.06.43c.43.18.83.41 1.23.71l.91.7 1.06-.43 1.27-.51.7 1.21-1.07.85-.89.7.14 1.13zM12 8c-2.21 0-4 1.79-4 4s1.79 4 4 4 4-1.79 4-4-1.79-4-4-4zm0 6c-1.1 0-2-.9-2-2s.9-2 2-2 2 .9 2 2-.9 2-2 2z" fill="#0d1020"/></g></svg>
<div class="abs" style="left:2870px;top:1404px;width:64px;height:64px;border:2px solid #bcc1cd;border-radius:16px;background:rgba(255,255,255,.38)"></div>
<svg class="ico" id="ic-tune" style="left:2886px;top:1420px" width="32" height="32" viewBox="0 0 32 32"><g transform="scale(1.3333)"><path d="M3 17v2h6v-2H3zM3 5v2h10V5H3zm10 16v-2h8v-2h-8v-2h-2v6h2zM7 9v2H3v2h4v2h2V9H7zm14 4v-2H11v2h10zm-6-4h2V7h4V5h-4V3h-2v6z" fill="#0d1020"/></g></svg>
<div class="abs" style="left:2870px;top:1484px;width:64px;height:64px;border:2px solid #bcc1cd;border-radius:16px;background:rgba(255,255,255,.38)"></div>
<svg class="ico" id="ic-dl" style="left:2886px;top:1500px" width="32" height="32" viewBox="0 0 32 32"><circle cx="16" cy="15.9" r="11.7" fill="none" stroke="#0d1020" stroke-width="2.7"/><path d="M16 8.4 V17.4 M11 12.4 L16 17.6 L21 12.4 M9.3 21.3 H22.7" fill="none" stroke="#0d1020" stroke-width="2.6"/></svg>
</div>

<!-- bottom shadow -->
<div class="abs" style="left:80px;top:1592px;width:2792px;height:200px;box-shadow:0 0 110px 0 rgba(0,0,0,.24);pointer-events:none"></div>
</div>
</body>
</html>
